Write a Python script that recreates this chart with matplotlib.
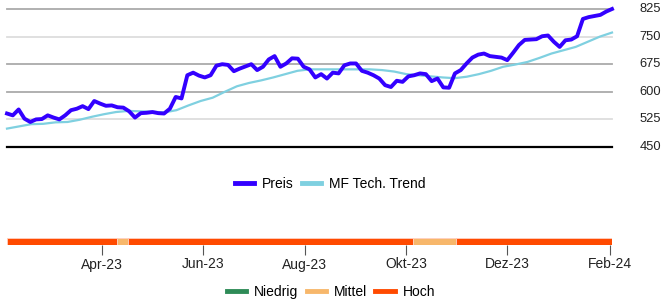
import pandas as pd
import matplotlib.pyplot as plt
import matplotlib.dates as mdates
from matplotlib.lines import Line2D

# Preis (roughly twice a week, Feb-23 .. Feb-24)
price = [541, 536, 552, 527, 518, 525, 526, 536, 530, 525, 536, 550, 554, 561, 553,
         575, 568, 562, 563, 558, 557, 547, 530, 542, 543, 545, 542, 541, 554, 586,
         582, 645, 652, 644, 639, 645, 671, 675, 673, 656, 663, 669, 675, 659, 668,
         688, 697, 668, 677, 691, 690, 668, 661, 639, 648, 636, 652, 650, 672, 677,
         677, 657, 652, 645, 636, 618, 613, 630, 627, 642, 645, 650, 648, 629, 636,
         612, 611, 650, 659, 677, 693, 701, 704, 697, 695, 693, 686, 706, 727, 741,
         742, 743, 751, 753, 736, 722, 740, 742, 751, 798, 803, 806, 809, 818, 825]

# MF Tech. Trend
trend = [500, 506, 512, 513, 517, 518, 524, 532, 539, 545, 548, 547, 546, 544, 550,
         563, 575, 584, 600, 615, 624, 631, 639, 648, 657, 661, 661, 661, 661, 661,
         661, 659, 655, 648, 645, 642, 639, 637, 641, 648, 657, 668, 674, 681, 692,
         704, 713, 722, 736, 750, 761]

start, end = pd.Timestamp('2023-02-03'), pd.Timestamp('2024-02-02')
price_dates = pd.date_range(start, end, periods=len(price))
trend_dates = pd.date_range(start, end, periods=len(trend))

# Risiko-Balken
risk_start = ['2023-02-03', '2023-04-10', '2023-04-17', '2023-10-05', '2023-10-31']
risk_end = ['2023-04-10', '2023-04-17', '2023-10-05', '2023-10-31', '2024-02-02']
risk_level = ['Hoch', 'Mittel', 'Hoch', 'Mittel', 'Hoch']
risk_colors = {'Niedrig': '#2e8b57', 'Mittel': '#f7b76b', 'Hoch': '#ff4a00'}

yticks = [450, 525, 600, 675, 750, 825]
grid_colors = ['#000000', '#dddddd', '#aaaaaa', '#aaaaaa', '#dddddd', '#aaaaaa']
xtick_dates = ['2023-04-01', '2023-06-01', '2023-08-01', '2023-10-01', '2023-12-01', '2024-02-01']
xtick_labels = ['Apr-23', 'Jun-23', 'Aug-23', 'Okt-23', 'Dez-23', 'Feb-24']

W, H = 665, 299
fig = plt.figure(figsize=(W / 100, H / 100), dpi=100)
plt.rcParams['font.family'] = ['Liberation Sans', 'DejaVu Sans']

# --- price chart
ax = fig.add_axes([7 / W, 1 - 147 / H, 605 / W, 138 / H])
for v, c in zip(yticks, grid_colors):
    ax.axhline(v, color=c, lw=1.6 if v == 450 else 1.3, zorder=1, clip_on=False)
ax.plot(trend_dates, trend, color='#7fd0e0', lw=1.6, zorder=2, clip_on=False)
ax.plot(price_dates, price, color='#3300ff', lw=2.8, zorder=3, clip_on=False,
        solid_joinstyle='round')
ax.set_xlim(start, end)
ax.set_ylim(450, 825)
ax.set_xticks([])
ax.set_yticks([])
for s in ax.spines.values():
    s.set_visible(False)
for v in yticks:
    ax.text(1.046, (v - 450) / 375, str(v), transform=ax.transAxes,
            ha='left', va='center', fontsize=9.3, color='#222222')

legend_kw = dict(loc='center', frameon=False, fontsize=10, handlelength=1.4,
                 handletextpad=0.55, columnspacing=0.6)
fig.legend(handles=[Line2D([], [], color='#3300ff', lw=3.5),
                    Line2D([], [], color='#7fd0e0', lw=3.5)],
           labels=['Preis', 'MF Tech. Trend'], ncol=2,
           bbox_to_anchor=(330 / W, 1 - 184 / H), **legend_kw)

# --- risk bar
bx = fig.add_axes([7 / W, 1 - 245 / H, 605 / W, 7 / H])
for s0, s1, lv in zip(risk_start, risk_end, risk_level):
    a, b = mdates.date2num(pd.Timestamp(s0)), mdates.date2num(pd.Timestamp(s1))
    bx.barh(0, b - a, left=a, height=1, color=risk_colors[lv],
            edgecolor='#ffd0c0', lw=0.6)
bx.set_xlim(start, end)
bx.set_ylim(-0.5, 0.5)
bx.set_yticks([])
bx.set_xticks([pd.Timestamp(d) for d in xtick_dates])
bx.set_xticklabels(xtick_labels, fontsize=10, color='#222222')
bx.tick_params(axis='x', length=7, width=0.8, color='#555555', pad=2)
for s in bx.spines.values():
    s.set_visible(False)

fig.legend(handles=[Line2D([], [], color=risk_colors[k], lw=3.5)
                    for k in ['Niedrig', 'Mittel', 'Hoch']],
           labels=['Niedrig', 'Mittel', 'Hoch'], ncol=3,
           bbox_to_anchor=(331 / W, 1 - 292 / H), **legend_kw)

fig.savefig('out.png', dpi=100)
